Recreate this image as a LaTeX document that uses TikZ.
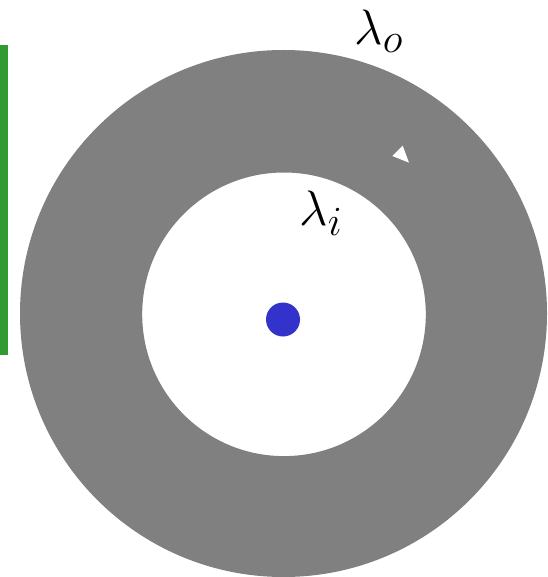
\documentclass[tikz,border=0pt]{standalone}
\usepackage{xcolor}
\usepackage{amsmath}
\usepackage{tikz}
\usetikzlibrary{positioning}
\definecolor{myring}{RGB}{128,128,128}
\definecolor{myblue}{RGB}{51,51,204}
\definecolor{mygreen}{RGB}{51,153,51}
\tikzset{
  ring/.style={fill=myring, even odd rule},
  dot/.style={fill=myblue},
  bar/.style={fill=mygreen},
  lbl/.style={inner sep=0pt, font=\fontsize{28}{32}\selectfont}
}

\begin{document}
\begin{tikzpicture}[x=0.5pt, y=-0.5pt]
    \useasboundingbox (0,0) rectangle (547,577);
    % Centres
    \coordinate (c) at (283.5,313.5);
    \coordinate (p) at (283,319.5);

    % Annulus
    \fill[ring] (c) circle[radius=263.5] (284,314.3) circle[radius=141.8];

    % Charge at the centre
    \fill[dot] (p) circle[radius=17];

    % Side bar
    \fill[bar] (0,45) rectangle (7.7,355);

    % Small marker
    \fill[white] (392.3,156) -- (402.7,145.7) -- (409,162.7) -- cycle;

    % Labels
    \node[lbl, anchor=base west] (lamo) at (354,45) {$\lambda_o$};
    \node[lbl, anchor=base west] (lami) at (299,225) {$\lambda_i$};
  \end{tikzpicture}
\end{document}
